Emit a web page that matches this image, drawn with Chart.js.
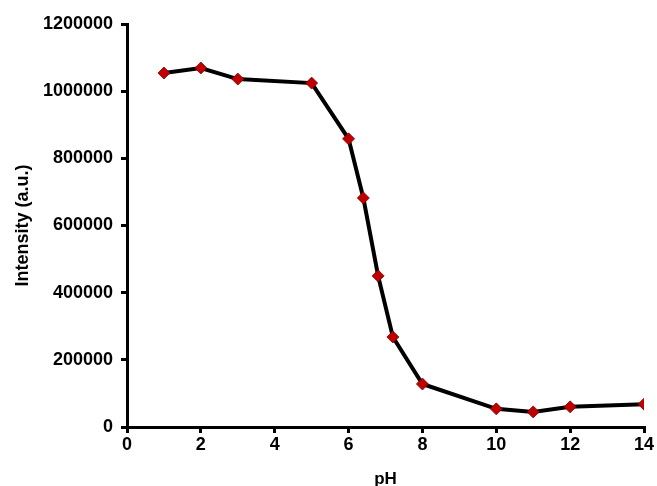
<!DOCTYPE html>
<html>
<head>
<meta charset="utf-8">
<script src="https://cdn.jsdelivr.net/npm/chart.js@4"></script>
<style>
  html, body { margin: 0; padding: 0; background: #fff; }
  #wrap { width: 657px; height: 486px; }
</style>
</head>
<body>
<div id="wrap"><canvas id="phChart"></canvas></div>
<script>
// pH values and intensity
const phValues = [1, 2, 3, 5, 6, 6.4, 6.8, 7.2, 8, 10, 11, 12, 14];
const intensity = [1054000, 1069000, 1036000, 1024000, 858000, 682000, 450000, 268000, 128000, 54000, 45000, 60000, 68000];
const xTicks = [0, 2, 4, 6, 8, 10, 12, 14];
const yTicks = [0, 200000, 400000, 600000, 800000, 1000000, 1200000];

const points = phValues.map((x, i) => ({ x: x, y: intensity[i] }));
const fontFamily = '"Liberation Sans", Arial, sans-serif';

new Chart(document.getElementById('phChart'), {
    type: 'line',
    data: {
        datasets: [{
            label: 'Intensity',
            data: points,
            borderColor: '#000',
            borderWidth: 4,
            tension: 0,
            pointStyle: 'rectRot',
            pointRadius: 6,
            pointBackgroundColor: '#c00000',
            pointBorderColor: '#7a0000',
            pointBorderWidth: 0.8
        }]
    },
    options: {
        responsive: true,
        maintainAspectRatio: false,
        animation: false,
        layout: { padding: { top: 24, right: 13, left: 0, bottom: 0 } },
        plugins: { legend: { display: false }, tooltip: { enabled: false } },
        scales: {
            x: {
                type: 'linear',
                min: 0,
                max: 14,
                afterBuildTicks: s => { s.ticks = xTicks.map(v => ({ value: v })); },
                afterFit: s => { s.height = 59; },
                border: { color: '#000', width: 3 },
                grid: { drawOnChartArea: false, color: '#000', lineWidth: 3, tickLength: 6 },
                ticks: {
                    color: '#000',
                    padding: 1,
                    font: { family: fontFamily, size: 18, weight: 'bold' }
                },
                title: {
                    display: true,
                    text: 'pH',
                    color: '#000',
                    padding: { top: 4, bottom: -2 },
                    font: { family: fontFamily, size: 17, weight: 'bold', lineHeight: 1 }
                }
            },
            y: {
                min: 0,
                max: 1200000,
                afterBuildTicks: s => { s.ticks = yTicks.map(v => ({ value: v })); },
                afterFit: s => { s.width = 127; },
                border: { color: '#000', width: 3 },
                grid: { drawOnChartArea: false, color: '#000', lineWidth: 3, tickLength: 6 },
                ticks: {
                    color: '#000',
                    padding: 8,
                    font: { family: fontFamily, size: 18, weight: 'bold' },
                    callback: v => String(v)
                },
                title: {
                    display: true,
                    text: 'Intensity (a.u.)',
                    color: '#000',
                    padding: { top: 14, bottom: 0 },
                    font: { family: fontFamily, size: 18, weight: 'bold', lineHeight: 1 }
                }
            }
        }
    }
});
</script>
</body>
</html>
